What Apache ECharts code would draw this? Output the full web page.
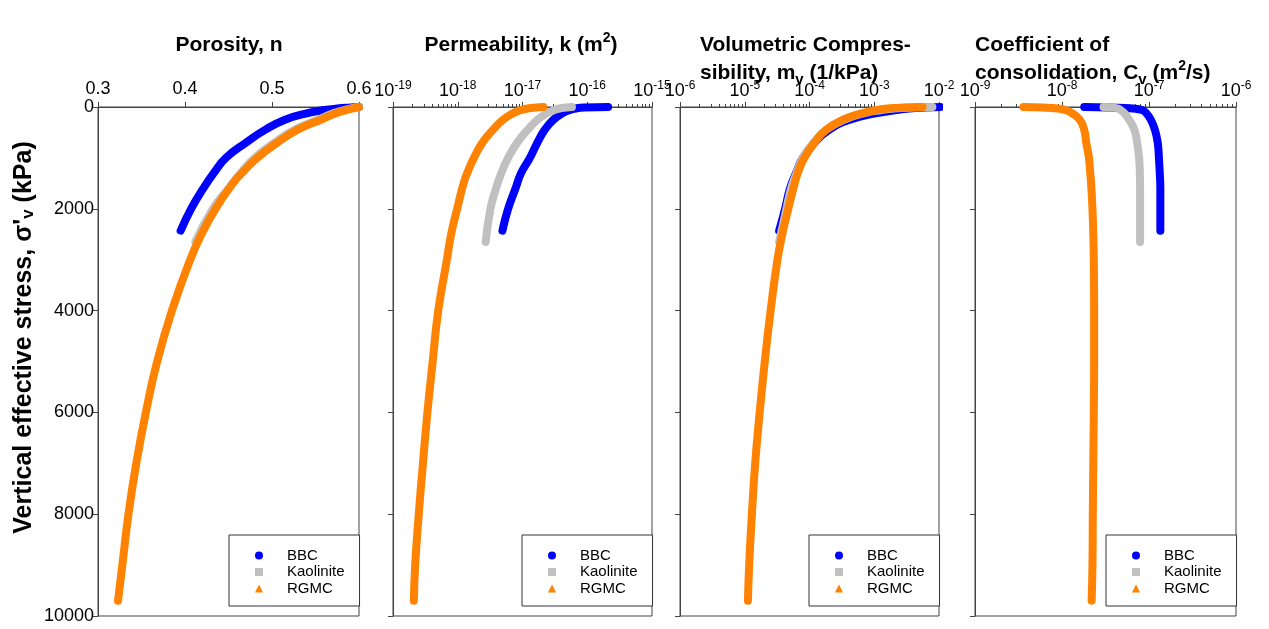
<!DOCTYPE html>
<html>
<head>
<meta charset="utf-8" />
<title>Consolidation properties vs stress</title>
<script src="https://cdn.jsdelivr.net/npm/echarts@6/dist/echarts.min.js"></script>
<style>html, body { margin: 0; padding: 0; background: #fff; }</style>
</head>
<body>
<div id="main" style="width:1269px;height:629px;"></div>
<script>
var FONT = '"Liberation Sans", Arial, sans-serif';

// vertical effective stress (kPa) at each sampled point
var stressBBC  = [0, 10, 30, 60, 120, 250, 450, 700, 1000, 1300, 1600, 2000, 2430];
var stressKaol = [0, 10, 30, 60, 120, 250, 450, 700, 1000, 1300, 1600, 2000, 2650];
var stressRGMC = [0, 10, 30, 60, 120, 250, 450, 700, 1000, 1250, 1500, 2000, 2500, 3000, 4000, 5000, 6000, 7000, 8000, 9000, 9700];

// porosity n
var porosityBBC  = [0.600, 0.590, 0.575, 0.560, 0.541, 0.515, 0.492, 0.470, 0.447, 0.433, 0.421, 0.407, 0.395];
var porosityKaol = [0.600, 0.596, 0.590, 0.583, 0.571, 0.553, 0.526, 0.503, 0.480, 0.464, 0.450, 0.432, 0.412];
var porosityRGMC = [0.600, 0.597, 0.592, 0.585, 0.574, 0.556, 0.529, 0.506, 0.483, 0.468, 0.455, 0.435, 0.419, 0.406, 0.385, 0.368, 0.355, 0.344, 0.335, 0.328, 0.323];

// permeability k (m2)
var permBBC  = [2.1e-16, 8.9e-17, 6.6e-17, 5.4e-17, 4.2e-17, 3.0e-17, 2.2e-17, 1.7e-17, 1.3e-17, 9.5e-18, 7.8e-18, 6.0e-18, 4.9e-18];
var permKaol = [5.8e-17, 4.7e-17, 3.7e-17, 3.1e-17, 2.4e-17, 1.7e-17, 1.2e-17, 8.3e-18, 6.0e-18, 4.7e-18, 3.9e-18, 3.2e-18, 2.7e-18];
var permRGMC = [2.1e-17, 1.6e-17, 1.2e-17, 9.5e-18, 7.2e-18, 5.0e-18, 3.5e-18, 2.4e-18, 1.78e-18, 1.45e-18, 1.23e-18, 9.8e-19, 7.9e-19, 6.8e-19, 5.0e-19, 4.1e-19, 3.4e-19, 2.9e-19, 2.5e-19, 2.2e-19, 2.1e-19];

// volumetric compressibility mv (1/kPa)
var mvBBC  = [1.05e-2, 6.3e-3, 3.5e-3, 2.2e-3, 1.1e-3, 4.2e-4, 2.0e-4, 1.2e-4, 7.9e-5, 6.2e-5, 5.0e-5, 4.2e-5, 3.4e-5];
var mvKaol = [7.9e-3, 4.0e-3, 2.0e-3, 1.3e-3, 7.1e-4, 3.4e-4, 1.8e-4, 1.15e-4, 7.9e-5, 6.3e-5, 5.2e-5, 4.4e-5, 3.4e-5];
var mvRGMC = [5.6e-3, 2.8e-3, 1.6e-3, 1.1e-3, 6.6e-4, 3.3e-4, 1.8e-4, 1.2e-4, 8.3e-5, 6.8e-5, 5.9e-5, 4.7e-5, 3.8e-5, 3.2e-5, 2.51e-5, 2.04e-5, 1.70e-5, 1.45e-5, 1.29e-5, 1.17e-5, 1.12e-5];

// coefficient of consolidation cv (m2/s)
var cvBBC  = [1.8e-8, 3.5e-8, 6.6e-8, 8.3e-8, 9.3e-8, 1.05e-7, 1.17e-7, 1.26e-7, 1.30e-7, 1.33e-7, 1.35e-7, 1.35e-7, 1.35e-7];
var cvKaol = [3.0e-8, 3.8e-8, 4.4e-8, 4.7e-8, 5.2e-8, 5.9e-8, 6.8e-8, 7.3e-8, 7.7e-8, 7.85e-8, 7.9e-8, 7.9e-8, 7.9e-8];
var cvRGMC = [3.6e-9, 6.0e-9, 8.9e-9, 1.1e-8, 1.3e-8, 1.6e-8, 1.8e-8, 1.9e-8, 2.04e-8, 2.10e-8, 2.16e-8, 2.24e-8, 2.29e-8, 2.32e-8, 2.34e-8, 2.34e-8, 2.32e-8, 2.29e-8, 2.26e-8, 2.24e-8, 2.19e-8];

// x axis ranges per panel
var xMin = [0.3, 1e-19, 1e-6, 1e-9];
var xMax = [0.6, 1e-15, 1e-2, 1e-6];

var materials = ['BBC', 'Kaolinite', 'RGMC'];
var colors = ['#0000ff', '#c0c0c0', '#ff8200'];
var icons = ['circle', 'rect', 'triangle'];
var stresses = [stressBBC, stressKaol, stressRGMC];
var panelValues = [
  [porosityBBC, porosityKaol, porosityRGMC],
  [permBBC, permKaol, permRGMC],
  [mvBBC, mvKaol, mvRGMC],
  [cvBBC, cvKaol, cvRGMC]
];

var grids = [
  { left: 98,  top: 107, width: 261, height: 509 },
  { left: 393, top: 107, width: 259, height: 509 },
  { left: 680, top: 107, width: 259, height: 509 },
  { left: 975, top: 107, width: 261, height: 509 }
];
var legendLeft = [229, 522, 809, 1106];

var myChart = echarts.init(document.getElementById('main'), null, { renderer: 'canvas' });

var titleRich = {
  sup: { fontSize: 14, fontWeight: 'bold', fontFamily: FONT, color: '#000', verticalAlign: 'top', lineHeight: 14 },
  sub: { fontSize: 15, fontWeight: 'bold', fontFamily: FONT, color: '#000', verticalAlign: 'bottom', lineHeight: 15 }
};
function titleStyle() {
  return { fontSize: 21, fontWeight: 'bold', fontFamily: FONT, color: '#000', lineHeight: 28, rich: titleRich };
}

var axisLineStyle = { lineStyle: { color: '#444', width: 1 } };

function logLabel(v) {
  var e = Math.round(Math.log10(v));
  return '10{sup|' + e + '}';
}

var xAxes = [];
var yAxes = [];
var series = [];
var legends = [];

for (var i = 0; i < 4; i++) {
  var isLog = i > 0;
  var xa = {
    gridIndex: i,
    position: 'top',
    min: xMin[i],
    max: xMax[i],
    axisLine: axisLineStyle,
    axisTick: { show: true, length: 5, lineStyle: { color: '#444' } },
    splitLine: { show: false },
    axisLabel: {
      margin: 9,
      color: '#000',
      fontSize: 18,
      fontFamily: FONT
    }
  };
  if (isLog) {
    xa.type = 'log';
    xa.logBase = 10;
    xa.minorTick = { show: true, splitNumber: 9, length: 3, lineStyle: { color: '#444' } };
    xa.axisLabel.formatter = logLabel;
    xa.axisLabel.margin = 5;
    xa.axisLabel.lineHeight = 22;
    xa.axisLabel.rich = { sup: { fontSize: 12, fontFamily: FONT, color: '#000', verticalAlign: 'top', lineHeight: 12 } };
  } else {
    xa.type = 'value';
    xa.interval = 0.1;
    xa.axisLabel.formatter = function (v) { return v.toFixed(1); };
  }
  xAxes.push(xa);

  var ya = {
    gridIndex: i,
    type: 'value',
    inverse: true,
    min: 0,
    max: 10000,
    interval: 2000,
    axisLine: axisLineStyle,
    axisTick: { show: true, length: 5, lineStyle: { color: '#444' } },
    splitLine: { show: false },
    axisLabel: {
      show: i === 0, margin: 4, color: '#000', fontSize: 18, fontFamily: FONT,
      formatter: function (v) { return String(v); }
    }
  };
  if (i === 0) {
    ya.name = "Vertical effective stress, \u03c3'{sub|v} (kPa)";
    ya.nameLocation = 'middle';
    ya.nameGap = 61;
    ya.nameTextStyle = {
      fontSize: 25, fontWeight: 'bold', fontFamily: FONT, color: '#000',
      padding: [0, 0, 0, 48],
      rich: { sub: { fontSize: 17, fontWeight: 'bold', fontFamily: FONT, color: '#000', verticalAlign: 'bottom', lineHeight: 17 } }
    };
  }
  yAxes.push(ya);

  for (var m = 0; m < 3; m++) {
    var xs = panelValues[i][m];
    var ys = stresses[m];
    series.push({
      name: materials[m],
      type: 'line',
      xAxisIndex: i,
      yAxisIndex: i,
      data: ys.map(function (s, j) { return [xs[j], s]; }),
      showSymbol: false,
      smooth: 0.5,
      color: colors[m],
      lineStyle: { width: 8, color: colors[m], cap: 'round', join: 'round' },
      emphasis: { disabled: true }
    });
  }

  legends.push({
    left: legendLeft[i],
    top: 535,
    orient: 'vertical',
    selectedMode: false,
    backgroundColor: '#fff',
    borderColor: '#333',
    borderWidth: 1,
    padding: [13, 15, 10, 26],
    itemWidth: 8,
    itemHeight: 8,
    itemGap: 1.5,
    formatter: function (name) { return '{t|' + name + '}'; },
    textStyle: {
      color: '#000',
      fontFamily: FONT,
      fontSize: 15,
      rich: { t: { fontSize: 15, fontFamily: FONT, color: '#000', lineHeight: 18, padding: [0, 0, 0, 19] } }
    },
    data: materials.map(function (n, k) { return { name: n, icon: icons[k] }; })
  });
}

myChart.setOption({
  animation: false,
  backgroundColor: '#fff',
  title: [
    { text: 'Porosity, n', left: 229, top: 31, textAlign: 'center', padding: 0, textStyle: titleStyle() },
    { text: 'Permeability, k (m{sup|2})', left: 521, top: 31, textAlign: 'center', padding: 0, textStyle: titleStyle() },
    { text: 'Volumetric Compres-\nsibility, m{sub|v} (1/kPa)', left: 700, top: 31, padding: 0, textStyle: titleStyle() },
    { text: 'Coefficient of\nconsolidation, C{sub|v} (m{sup|2}/s)', left: 975, top: 31, padding: 0, textStyle: titleStyle() }
  ],
  grid: grids.map(function (g) {
    return { left: g.left, top: g.top, width: g.width, height: g.height, show: true, borderColor: '#444', borderWidth: 1, backgroundColor: 'transparent' };
  }),
  xAxis: xAxes,
  yAxis: yAxes,
  legend: legends,
  series: series
});
</script>
</body>
</html>
